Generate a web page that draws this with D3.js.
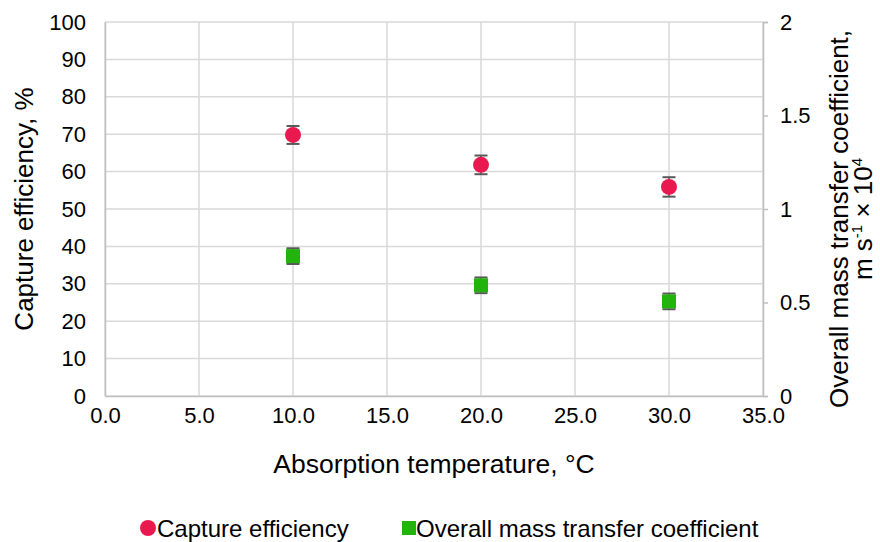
<!DOCTYPE html>
<html>
<head>
<meta charset="utf-8">
<script src="https://cdn.jsdelivr.net/npm/d3@7"></script>
<style>
  body { margin: 0; background: #fff; }
  svg text { font-family: "Liberation Sans", Arial, sans-serif; fill: #000; }
</style>
</head>
<body>
<svg id="chart" width="880" height="542"></svg>
<script>
// data
var temps = [10, 20, 30];
var efficiency = [69.8, 61.8, 55.9];
var efficiencyErr = [2.4, 2.5, 2.6];
var massTransfer = [0.748, 0.592, 0.506];
var massTransferErr = [0.042, 0.042, 0.042];

var xTicks = [0, 5, 10, 15, 20, 25, 30, 35];
var yTicks = [0, 10, 20, 30, 40, 50, 60, 70, 80, 90, 100];
var y2Ticks = [0, 0.5, 1, 1.5, 2];

var margin = { top: 22, right: 117, bottom: 146, left: 105 };
var width = 880 - margin.left - margin.right;
var height = 542 - margin.top - margin.bottom;

var svg = d3.select("#chart")
  .append("g")
  .attr("transform", "translate(" + margin.left + "," + margin.top + ")");

var x = d3.scaleLinear().domain([0, 35]).range([0, width]);
var y = d3.scaleLinear().domain([0, 100]).range([height, 0]);
var y2 = d3.scaleLinear().domain([0, 2]).range([height, 0]);

// gridlines
svg.append("g")
  .selectAll("line")
  .data(yTicks)
  .enter().append("line")
  .attr("x1", 0).attr("x2", width)
  .attr("y1", function(d) { return y(d); })
  .attr("y2", function(d) { return y(d); })
  .style("stroke", "#d9d9d9").style("stroke-width", 1.5);

svg.append("g")
  .selectAll("line")
  .data(xTicks)
  .enter().append("line")
  .attr("x1", function(d) { return x(d); })
  .attr("x2", function(d) { return x(d); })
  .attr("y1", 0).attr("y2", height)
  .style("stroke", "#d9d9d9").style("stroke-width", 1.5);

// axes
var xAxis = svg.append("g")
  .attr("transform", "translate(0," + height + ")")
  .call(d3.axisBottom(x).tickValues(xTicks).tickSize(0).tickPadding(11)
    .tickFormat(d3.format(".1f")));

var yAxis = svg.append("g")
  .call(d3.axisLeft(y).tickValues(yTicks).tickSize(0).tickPadding(19));

var y2Axis = svg.append("g")
  .attr("transform", "translate(" + width + ",0)")
  .call(d3.axisRight(y2).tickValues(y2Ticks).tickSize(5).tickPadding(12)
    .tickFormat(function(d) { return String(d); }));

[xAxis, yAxis, y2Axis].forEach(function(a) {
  a.select(".domain").style("stroke", "#bfbfbf").style("stroke-width", 1.5);
  a.selectAll(".tick line").style("stroke", "#bfbfbf").style("stroke-width", 1.5);
  a.selectAll(".tick text")
    .style("font-family", '"Liberation Sans", Arial, sans-serif')
    .style("font-size", "22px").style("fill", "#000");
});

// axis titles
svg.append("text")
  .attr("x", width / 2).attr("y", 451)
  .attr("text-anchor", "middle")
  .style("font-size", "26.5px")
  .text("Absorption temperature, °C");

svg.append("text")
  .attr("transform", "translate(" + (-72) + "," + (height / 2) + ") rotate(-90)")
  .attr("text-anchor", "middle")
  .style("font-size", "26px")
  .text("Capture efficiency, %");

var rt = svg.append("text")
  .attr("transform", "translate(" + (width + 85) + "," + (height / 2 + 10) + ") rotate(-90)")
  .attr("text-anchor", "middle")
  .style("font-size", "26px");
rt.append("tspan").attr("x", 0).attr("dy", 0).text("Overall mass transfer coefficient,");
var l2 = rt.append("tspan").attr("x", 0).attr("dy", 24);
l2.append("tspan").text("m s");
l2.append("tspan").attr("dy", -10).style("font-size", "15px").text("-1");
l2.append("tspan").attr("dy", 10).text(" × 10");
l2.append("tspan").attr("dy", -10).style("font-size", "15px").text("4");

// error bars
function errorBars(vals, errs, scale) {
  var g = svg.append("g");
  temps.forEach(function(t, i) {
    var cx = x(t), lo = scale(vals[i] - errs[i]), hi = scale(vals[i] + errs[i]);
    g.append("line").attr("x1", cx).attr("x2", cx).attr("y1", lo).attr("y2", hi)
      .style("stroke", "#595959").style("stroke-width", 1.5);
    [lo, hi].forEach(function(yy) {
      g.append("line").attr("x1", cx - 6.5).attr("x2", cx + 6.5).attr("y1", yy).attr("y2", yy)
        .style("stroke", "#595959").style("stroke-width", 2);
    });
  });
}
errorBars(efficiency, efficiencyErr, y);
errorBars(massTransfer, massTransferErr, y2);

// markers
svg.append("g").selectAll("circle")
  .data(efficiency)
  .enter().append("circle")
  .attr("cx", function(d, i) { return x(temps[i]); })
  .attr("cy", function(d) { return y(d); })
  .attr("r", 8)
  .style("fill", "#e9194f");

svg.append("g").selectAll("rect")
  .data(massTransfer)
  .enter().append("rect")
  .attr("x", function(d, i) { return x(temps[i]) - 7; })
  .attr("y", function(d) { return y2(d) - 7; })
  .attr("width", 14).attr("height", 14)
  .style("fill", "#22b30d");

// legend
var leg = d3.select("#chart").append("g").attr("transform", "translate(0,528)");
leg.append("circle").attr("cx", 148).attr("cy", 0).attr("r", 8).style("fill", "#e9194f");
leg.append("text").attr("x", 157).attr("y", 8.5).style("font-size", "24px").text("Capture efficiency");
leg.append("rect").attr("x", 402).attr("y", -7).attr("width", 14).attr("height", 14).style("fill", "#22b30d");
leg.append("text").attr("x", 416).attr("y", 8.5).style("font-size", "24px").text("Overall mass transfer coefficient");
</script>
</body>
</html>
